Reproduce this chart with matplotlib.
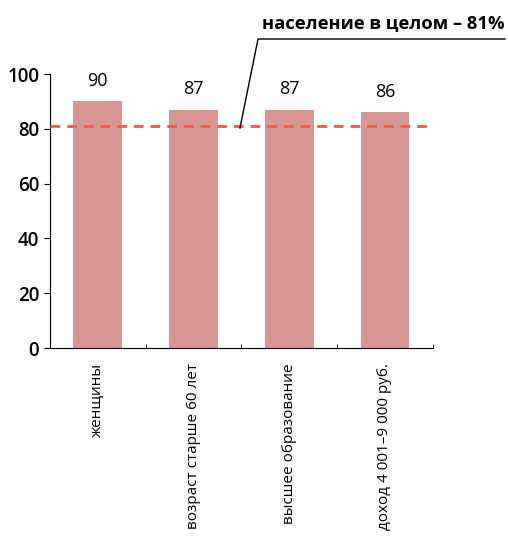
import matplotlib.pyplot as plt
from matplotlib.lines import Line2D

plt.rcParams['font.family'] = ['Open Sans', 'DejaVu Sans']

categories = ['женщины', 'возраст старше 60 лет', 'высшее образование', 'доход 4 001–9 000 руб.']
values = [90, 87, 87, 86]
overall = 81
overall_label = 'население в целом – 81%'

fig = plt.figure(figsize=(5.08, 5.36), dpi=100)
ax = fig.add_axes([0.098, 0.3507, 0.754, 0.5112])

x = range(len(categories))
ax.bar(x, values, width=0.51, color='#d99594', zorder=2)
for xi, v in zip(x, values):
    ax.annotate(str(v), (xi, v), xytext=(0, 8.5), textcoords='offset points',
                ha='center', va='bottom', fontsize=13)

ax.axhline(overall, xmin=0, xmax=0.99, color='#f05a4a', lw=2, ls=(0, (3.5, 2.5)), zorder=3)

ax.set_xlim(-0.5, 3.5)
ax.set_ylim(0, 100)
ax.set_yticks([0, 20, 40, 60, 80, 100])
ax.tick_params(axis='y', labelsize=13.5, length=4)
ax.set_xticks(list(x))
ax.set_xticklabels(categories, rotation=90, fontsize=11)
ax.tick_params(axis='x', length=0, pad=11)
ax.set_xticks([0.5, 1.5, 2.5, 3.5], minor=True)
ax.tick_params(axis='x', which='minor', direction='in', length=3)
for lbl in ax.get_yticklabels():
    lbl.set_fontweight('semibold')

for s in ['top', 'right']:
    ax.spines[s].set_visible(False)

# leader line for the overall value
fig.add_artist(Line2D([240 / 508, 258 / 508, 505 / 508],
                      [1 - 128 / 536, 1 - 39 / 536, 1 - 39 / 536],
                      color='black', lw=1))
fig.text(505 / 508, 1 - 29 / 536, overall_label, ha='right', va='baseline',
         fontsize=13.2, fontweight='bold')

fig.savefig('out.png', dpi=100)
